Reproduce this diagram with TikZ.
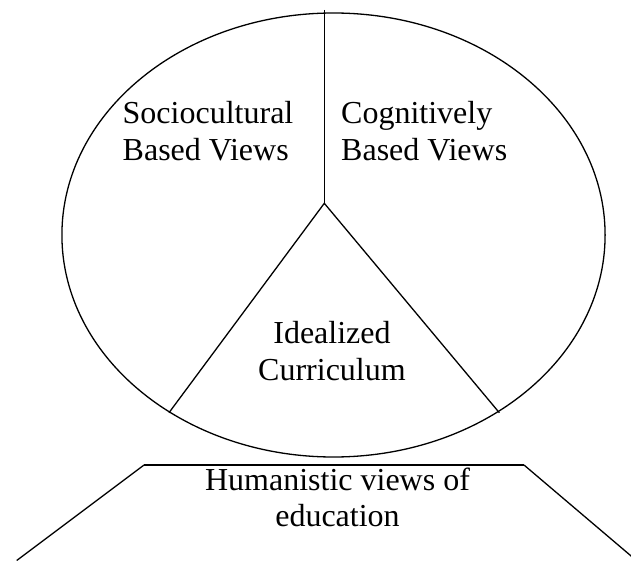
\documentclass[tikz,border=0pt]{standalone}
\usepackage{fontspec}
\setmainfont{Liberation Serif}
\begin{document}
\begin{tikzpicture}[x=1pt,y=-1pt,
  every node/.style={inner sep=0pt,font=\fontsize{32}{37}\selectfont},
  lbl/.style={anchor=base west},
  clbl/.style={anchor=base},
  ln/.style={line width=1.3pt,line cap=butt}]
\useasboundingbox (0,0) rectangle (631,561);
\clip (0,0) rectangle (631,561);
% ellipse
\draw[ln] (333.5,235) ellipse [x radius=271.6, y radius=222];
% divider lines
\coordinate (top) at (324.3,10);
\coordinate (hub) at (324.3,203.3);
\coordinate (cl) at (169,412.7);
\coordinate (cr) at (499.3,412.7);
\draw[ln] (top) -- (hub);
\draw[ln] (cl) -- (hub) -- (cr);
% trapezoid
\coordinate (tl) at (144,465);
\coordinate (tr) at (524,465);
\coordinate (bl) at (16.7,560.5);
\coordinate (br) at (637,561);
\draw[ln] (bl) -- (tl);
\draw[line width=1.8pt] (tl) -- (tr);
\draw[ln] (tr) -- (br);
% labels
\node[lbl] (s1) at (122.5,123.3) {Sociocultural};
\node[lbl] (s2) at (122.5,160.7) {Based Views};
\node[lbl] (c1) at (341,123.3) {Cognitively};
\node[lbl] (c2) at (341,160.7) {Based Views};
\node[clbl] (i1) at (332,343) {Idealized};
\node[clbl] (i2) at (332,380.4) {Curriculum};
\node[clbl] (h1) at (337.5,490.7) {Humanistic views of};
\node[clbl] (h2) at (337.5,526.7) {education};
\end{tikzpicture}
\end{document}
